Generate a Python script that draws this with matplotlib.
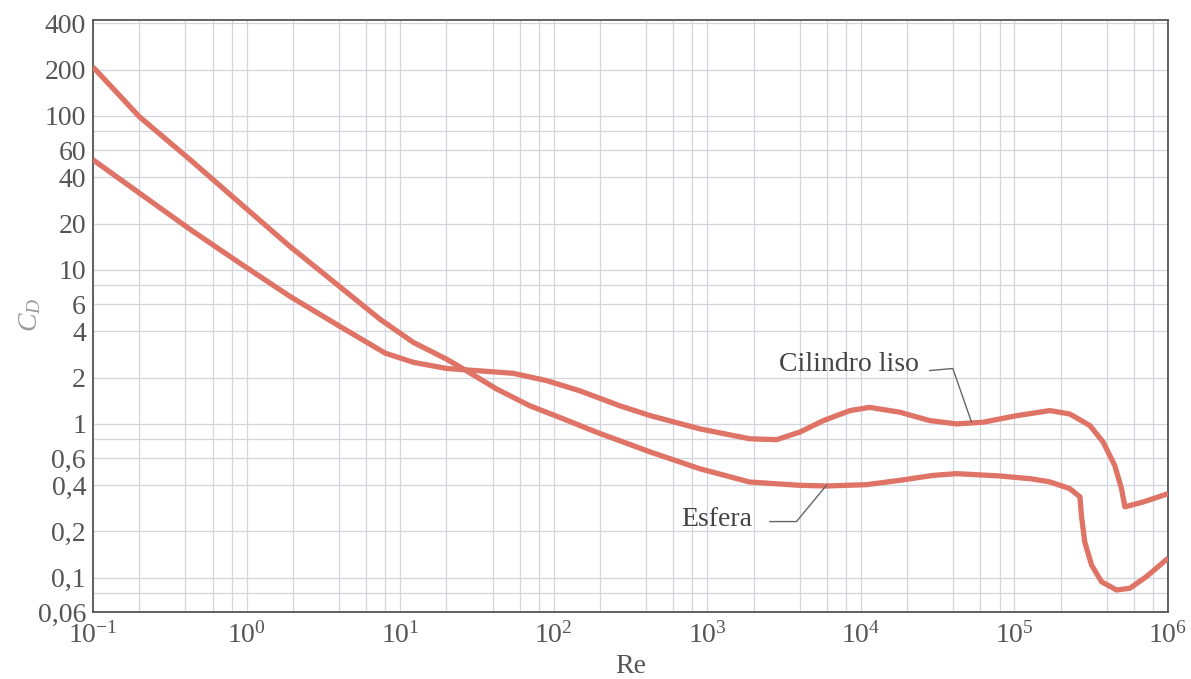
import matplotlib
matplotlib.use('Agg')
import matplotlib.pyplot as plt
from matplotlib.ticker import FixedLocator, FixedFormatter, NullFormatter, LogLocator

# ---- data ----
re_esfera = [0.1, 0.2, 0.43, 0.9, 1.9, 4.0, 7.4, 12.2, 20.1, 27.1, 42.5, 70, 115,
             190, 427, 895, 1.89e3, 4.0e3, 6.0e3, 1.09e4, 1.8e4, 2.96e4, 4.2e4,
             8.0e4, 1.28e5, 1.70e5, 2.29e5, 2.67e5, 2.73e5, 2.87e5, 3.18e5,
             3.69e5, 4.62e5, 5.64e5, 7.25e5, 1.0e6]
cd_esfera = [208, 99, 51.9, 27.3, 14.3, 7.85, 4.78, 3.38, 2.63, 2.21, 1.685, 1.31,
             1.08, 0.883, 0.656, 0.511, 0.419, 0.399, 0.395, 0.403, 0.430, 0.463,
             0.475, 0.459, 0.44, 0.42, 0.38, 0.336, 0.255, 0.171, 0.121, 0.0944,
             0.0834, 0.0855, 0.102, 0.134]

re_cilindro = [0.1, 0.2, 0.43, 0.9, 1.9, 4.0, 8.0, 12.2, 20.1, 33.1, 54.5, 89.9,
               148, 270, 427, 895, 1.89e3, 2.83e3, 4.0e3, 5.7e3, 8.5e3, 1.14e4,
               1.8e4, 2.81e4, 4.2e4, 6.25e4, 1.03e5, 1.70e5, 2.29e5, 3.10e5,
               3.78e5, 4.50e5, 4.98e5, 5.24e5, 6.89e5, 1.0e6]
cd_cilindro = [51.9, 31.6, 18.3, 11.1, 6.77, 4.33, 2.88, 2.51, 2.29, 2.21, 2.13,
               1.91, 1.64, 1.31, 1.13, 0.928, 0.80, 0.79, 0.884, 1.05, 1.22, 1.28,
               1.19, 1.05, 1.0, 1.025, 1.13, 1.22, 1.16, 0.975, 0.762, 0.537, 0.38,
               0.289, 0.311, 0.352]

x_ticks = [1e-1, 1e0, 1e1, 1e2, 1e3, 1e4, 1e5, 1e6]
x_tick_labels = [r'$10^{-1}$', r'$10^{0}$', r'$10^{1}$', r'$10^{2}$', r'$10^{3}$',
                 r'$10^{4}$', r'$10^{5}$', r'$10^{6}$']
y_ticks = [0.06, 0.1, 0.2, 0.4, 0.6, 1, 2, 4, 6, 10, 20, 40, 60, 100, 200, 400]
y_tick_labels = ['0,06', '0,1', '0,2', '0,4', '0,6', '1', '2', '4', '6', '10',
                 '20', '40', '60', '100', '200', '400']
y_minor = [0.08, 0.8, 8, 80]

label_cilindro = 'Cilindro liso'
label_esfera = 'Esfera'

# ---- style ----
plt.rcParams['font.family'] = ['Liberation Serif', 'DejaVu Serif']
plt.rcParams['mathtext.fontset'] = 'custom'
plt.rcParams['mathtext.rm'] = 'Liberation Serif'
plt.rcParams['mathtext.it'] = 'Liberation Serif:italic'

curve_color = '#df7366'
grid_color = '#d2d5dd'
text_color = '#555555'

W, H = 1191, 679
fig = plt.figure(figsize=(W / 100, H / 100), dpi=100)
ax = fig.add_axes([93 / W, 1 - 612 / H, (1168 - 93) / W, (612 - 20) / H])
ax.set_xscale('log')
ax.set_yscale('log')
ax.set_xlim(0.1, 1e6)
ax.set_ylim(0.06, 420)

ax.xaxis.set_major_locator(FixedLocator(x_ticks))
ax.xaxis.set_major_formatter(FixedFormatter(x_tick_labels))
ax.xaxis.set_minor_locator(LogLocator(base=10, subs=[2, 4, 6, 8]))
ax.xaxis.set_minor_formatter(NullFormatter())
ax.yaxis.set_major_locator(FixedLocator(y_ticks))
ax.yaxis.set_major_formatter(FixedFormatter(y_tick_labels))
ax.yaxis.set_minor_locator(FixedLocator(y_minor))
ax.yaxis.set_minor_formatter(NullFormatter())

ax.grid(True, which='both', color=grid_color, linewidth=0.9)
ax.set_axisbelow(True)
ax.tick_params(which='both', length=0)
ax.tick_params(axis='y', labelsize=20, labelcolor=text_color, pad=5)
ax.tick_params(axis='x', labelsize=20, labelcolor=text_color, pad=7)
for s in ax.spines.values():
    s.set_color('#555555')
    s.set_linewidth(1.3)

ax.plot(re_esfera, cd_esfera, color=curve_color, lw=3.8, solid_joinstyle='round',
        solid_capstyle='butt', zorder=3)
ax.plot(re_cilindro, cd_cilindro, color=curve_color, lw=3.8, solid_joinstyle='round',
        solid_capstyle='butt', zorder=3)

# annotations (leader lines)
ax.text(2.4e4, 2.44, label_cilindro, ha='right', va='center', fontsize=20,
        color='#444444')
ax.plot([2.81e4, 3.97e4, 5.25e4], [2.22, 2.29, 1.03], color='#666666', lw=1.0,
        zorder=4)
ax.text(1.95e3, 0.239, label_esfera, ha='right', va='center', fontsize=20,
        color='#444444')
ax.plot([2.56e3, 3.81e3, 5.98e3], [0.232, 0.232, 0.40], color='#666666', lw=1.0,
        zorder=4)

ax.set_xlabel('Re', fontsize=20, color=text_color, labelpad=4)
fig.text(30 / W, 1 - 315 / H, r'$C_D$', rotation=90, fontsize=20,
         color='#9a9a9a', ha='center', va='center')

fig.savefig('out.png', dpi=100, facecolor='white')
